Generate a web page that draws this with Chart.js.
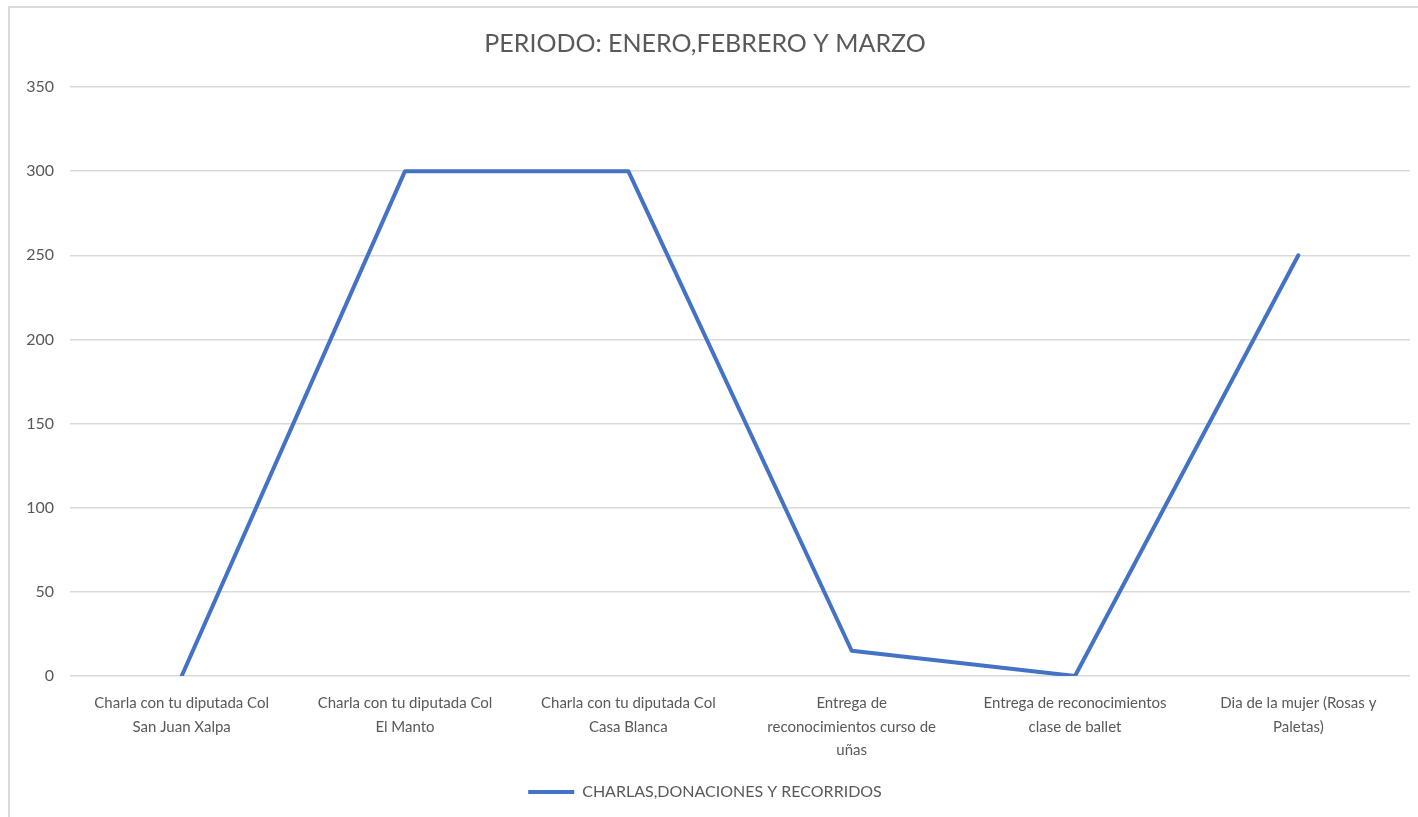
<!DOCTYPE html>
<html>
<head>
<meta charset="utf-8">
<script src="https://cdn.jsdelivr.net/npm/chart.js@4.4.1/dist/chart.umd.min.js"></script>
<style>
  body { margin: 0; background: #fff; overflow: hidden; }
  #marco { position: absolute; left: 8px; top: 6px; width: 1430px; height: 830px;
           border-top: 2px solid #d9d9d9; border-left: 2px solid #d9d9d9; }
  #caja { position: absolute; left: 0; top: 0; width: 1418px; height: 817px; }
</style>
</head>
<body>
<div id="marco"></div>
<div id="caja"><canvas id="grafica"></canvas></div>
<script>
// datos
const categorias = [
  ['Charla con tu diputada Col', 'San Juan Xalpa'],
  ['Charla con tu diputada Col', 'El Manto'],
  ['Charla con tu diputada Col', 'Casa Blanca'],
  ['Entrega de', 'reconocimientos curso de', 'uñas'],
  ['Entrega de reconocimientos', 'clase de ballet'],
  ['Dia de la mujer (Rosas y', 'Paletas)']
];
const valores = [0, 300, 300, 15, 0, 250];
const nombreSerie = 'CHARLAS,DONACIONES Y RECORRIDOS';
const titulo = 'PERIODO: ENERO,FEBRERO Y MARZO';

const gris = '#595959';
const fuente = 'Lato, "Liberation Sans", sans-serif';

new Chart(document.getElementById('grafica'), {
  type: 'line',
  data: {
    labels: categorias,
    datasets: [{
      label: nombreSerie,
      data: valores,
      borderColor: '#4472C4',
      backgroundColor: '#4472C4',
      borderWidth: 4,
      pointRadius: 0,
      tension: 0,
      borderJoinStyle: 'round',
      borderCapStyle: 'round'
    }]
  },
  options: {
    responsive: true,
    maintainAspectRatio: false,
    animation: false,
    layout: { padding: { left: 0, right: 8, top: 0, bottom: 7 } },
    plugins: {
      title: {
        display: true,
        text: titulo,
        color: gris,
        font: { family: fuente, size: 25, weight: 'normal' },
        padding: { top: 29, bottom: 28 }
      },
      legend: {
        position: 'bottom',
        labels: {
          color: gris,
          font: { family: fuente, size: 16 },
          usePointStyle: true,
          pointStyle: 'line',
          pointStyleWidth: 46,
          padding: 10
        }
      },
      tooltip: { enabled: false }
    },
    scales: {
      x: {
        offset: true,
        grid: { display: false, offset: true },
        border: { display: false },
        ticks: {
          color: gris,
          font: { family: fuente, size: 15, lineHeight: 1.55 },
          maxRotation: 0,
          autoSkip: false,
          padding: 8
        },
        afterFit: (eje) => { eje.height = 98; }
      },
      y: {
        min: 0,
        max: 350,
        ticks: {
          stepSize: 50,
          color: gris,
          font: { family: fuente, size: 16 },
          padding: 16
        },
        grid: { color: '#d9d9d9', lineWidth: 1.5, drawTicks: false },
        border: { display: false },
        afterFit: (eje) => { eje.width = 70; }
      }
    }
  }
});
</script>
</body>
</html>
